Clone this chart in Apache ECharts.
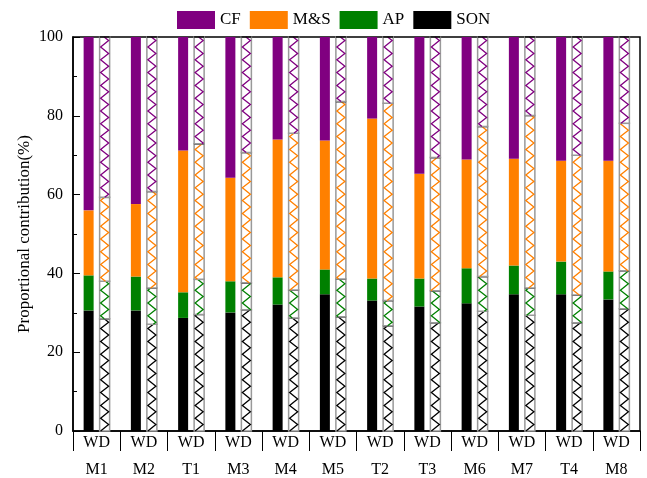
<!DOCTYPE html>
<html>
<head>
<meta charset="utf-8">
<script src="https://cdn.jsdelivr.net/npm/echarts@6/dist/echarts.min.js"></script>
<style>
  html, body { margin: 0; padding: 0; background: #fff; }
  #chart { width: 647px; height: 478px; }
</style>
</head>
<body>
<div id="chart"></div>
<script>
// sites
const categories = ['M1', 'M2', 'T1', 'M3', 'M4', 'M5', 'T2', 'T3', 'M6', 'M7', 'T4', 'M8']

// W (solid bars), %
const sonW = [30.6, 30.6, 28.7, 30.1, 32.1, 34.7, 33.1, 31.6, 32.4, 34.7, 34.7, 33.4]
const apW  = [8.9, 8.6, 6.5, 7.9, 6.9, 6.3, 5.6, 7.1, 8.9, 7.3, 8.3, 7.1]
const msW  = [16.5, 18.4, 36.0, 26.3, 35.0, 32.7, 40.6, 26.6, 27.6, 27.1, 25.6, 28.1]
const cfW  = [44.0, 42.4, 28.8, 35.7, 26.0, 26.3, 20.7, 34.7, 31.1, 30.9, 31.4, 31.4]

// D (hatched bars), %
const sonD = [28.5, 27.1, 29.6, 30.8, 28.7, 29.0, 26.7, 27.5, 30.4, 29.4, 27.5, 31.0]
const apD  = [9.5, 9.2, 8.9, 6.8, 7.1, 9.6, 6.4, 8.1, 8.8, 6.9, 7.0, 9.7]
const msD  = [21.3, 24.5, 34.4, 33.1, 39.8, 45.0, 50.1, 33.8, 38.1, 43.8, 35.5, 37.4]
const cfD  = [40.7, 39.2, 27.1, 29.3, 24.4, 16.4, 16.8, 30.6, 22.7, 19.9, 30.0, 21.9]

const yTicks = [0, 20, 40, 60, 80, 100]

const layers = [
  { name: 'SON', color: '#000000', w: sonW, d: sonD },
  { name: 'AP', color: '#008000', w: apW, d: apD },
  { name: 'M&S', color: '#FF8000', w: msW, d: msD },
  { name: 'CF', color: '#800080', w: cfW, d: cfD }
]

const FONT = '"Liberation Serif", "DejaVu Serif", serif'
const BAR_W = 10
const OFFSET = 8

// stack values -> [index, start, end]
const stackData = (key) => {
  const base = categories.map(() => 0)
  return layers.map(layer => categories.map((c, i) => {
    const start = base[i]
    base[i] += layer[key][i]
    return [i, start, base[i]]
  }))
}
const stackW = stackData('w')
const stackD = stackData('d')

const solidItem = (color) => (params, api) => {
  const i = api.value(0)
  const p0 = api.coord([i, api.value(1)])
  const p1 = api.coord([i, api.value(2)])
  const xc = p0[0] - OFFSET
  return {
    type: 'rect',
    shape: { x: xc - BAR_W / 2, y: p1[1], width: BAR_W, height: p0[1] - p1[1] },
    style: { fill: color }
  }
}

const hatchItem = (color) => (params, api) => {
  const i = api.value(0)
  const p0 = api.coord([i, api.value(1)])
  const p1 = api.coord([i, api.value(2)])
  const yZero = api.coord([i, 0])[1]
  const xc = p0[0] + OFFSET
  const xl = xc - BAR_W / 2 + 1
  const xr = xc + BAR_W / 2 - 1
  const step = 6.4
  // triangle wave measured from the baseline
  const zx = (y) => {
    const t = ((yZero - y) / step) % 2
    const f = t <= 1 ? t : 2 - t
    return xl + (xr - xl) * f
  }
  const pts = [[zx(p0[1]), p0[1]]]
  let k = Math.floor((yZero - p0[1]) / step) + 1
  while (yZero - k * step > p1[1]) {
    const y = yZero - k * step
    pts.push([zx(y), y])
    k++
  }
  pts.push([zx(p1[1]), p1[1]])
  return {
    type: 'group',
    children: [
      {
        type: 'rect',
        shape: { x: xc - BAR_W / 2, y: p1[1], width: BAR_W, height: p0[1] - p1[1] },
        style: { fill: '#fff', stroke: '#999', lineWidth: 1.5 }
      },
      {
        type: 'polyline',
        shape: { points: pts },
        style: { fill: null, stroke: color, lineWidth: 1.3 }
      },
      {
        type: 'line',
        shape: { x1: xc - BAR_W / 2, y1: p1[1], x2: xc + BAR_W / 2, y2: p1[1] },
        style: { stroke: '#000', lineWidth: 1.5 }
      }
    ]
  }
}

const series = []
layers.forEach((layer, li) => {
  series.push({
    name: layer.name,
    type: 'custom',
    itemStyle: { color: layer.color },
    renderItem: solidItem(layer.color),
    encode: { x: 0, y: [1, 2] },
    data: stackW[li]
  })
  series.push({
    name: layer.name + ' D',
    type: 'custom',
    itemStyle: { color: layer.color },
    renderItem: hatchItem(layer.color),
    encode: { x: 0, y: [1, 2] },
    data: stackD[li]
  })
})

const chart = echarts.init(document.getElementById('chart'))
chart.setOption({
  animation: false,
  textStyle: { fontFamily: FONT },
  legend: {
    top: 11,
    left: 177,
    padding: 0,
    itemWidth: 38,
    itemHeight: 18,
    itemGap: 9,
    icon: 'rect',
    textStyle: { fontFamily: FONT, fontSize: 17, color: '#000' },
    data: ['CF', 'M&S', 'AP', 'SON'].map(n => ({
      name: n,
      itemStyle: { color: layers.find(l => l.name === n).color }
    }))
  },
  grid: {
    left: 73,
    right: 7,
    top: 37,
    bottom: 46,
    show: true,
    borderColor: '#000',
    borderWidth: 1.5
  },
  xAxis: {
    type: 'category',
    data: categories,
    axisLine: { lineStyle: { color: '#000', width: 1.5 } },
    axisTick: { show: true, length: 20, lineStyle: { color: '#000', width: 1 } },
    axisLabel: {
      margin: 0,
      interval: 0,
      color: '#000',
      formatter: v => '{w|WD}\n{m|' + v + '}',
      rich: {
        w: { fontFamily: FONT, fontSize: 16, lineHeight: 24, color: '#000' },
        m: { fontFamily: FONT, fontSize: 16, lineHeight: 30, color: '#000' }
      }
    }
  },
  yAxis: {
    type: 'value',
    min: yTicks[0],
    max: yTicks[yTicks.length - 1],
    interval: 20,
    name: 'Proportional contribution(%)',
    nameLocation: 'middle',
    nameGap: 40,
    nameMoveOverlap: false,
    nameTextStyle: { fontFamily: FONT, fontSize: 17, color: '#000' },
    axisLine: { show: true, lineStyle: { color: '#000', width: 1.5 } },
    axisTick: { show: true, inside: true, length: 7, lineStyle: { color: '#000' } },
    minorTick: { show: true, splitNumber: 2, length: 4, lineStyle: { color: '#000' } },
    splitLine: { show: false },
    axisLabel: { fontFamily: FONT, fontSize: 16, color: '#000', margin: 10 }
  },
  series
})
</script>
</body>
</html>
